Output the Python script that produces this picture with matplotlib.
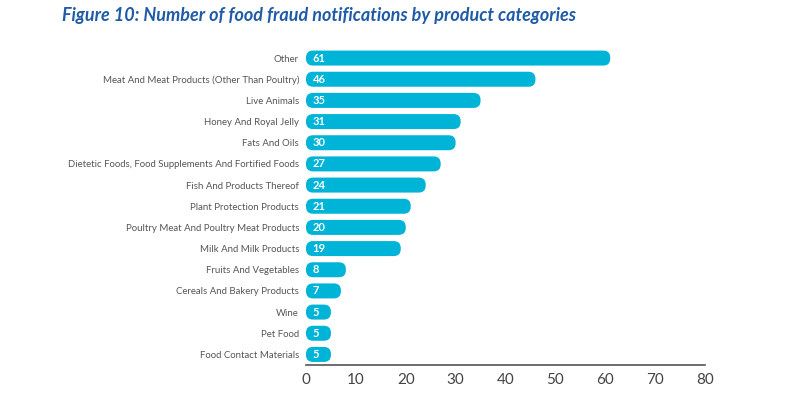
import matplotlib.pyplot as plt
from matplotlib.patches import FancyBboxPatch

categories = [
    "Other",
    "Meat And Meat Products (Other Than Poultry)",
    "Live Animals",
    "Honey And Royal Jelly",
    "Fats And Oils",
    "Dietetic Foods, Food Supplements And Fortified Foods",
    "Fish And Products Thereof",
    "Plant Protection Products",
    "Poultry Meat And Poultry Meat Products",
    "Milk And Milk Products",
    "Fruits And Vegetables",
    "Cereals And Bakery Products",
    "Wine",
    "Pet Food",
    "Food Contact Materials",
]
counts = [61, 46, 35, 31, 30, 27, 24, 21, 20, 19, 8, 7, 5, 5, 5]
ticks = [0, 10, 20, 30, 40, 50, 60, 70, 80]

bar_color = "#00b4d8"
title_color = "#1f5ba6"
label_color = "#555555"

fig = plt.figure(figsize=(8, 3.98), dpi=100)
ax = fig.add_axes([0.3825, 0.0829, 0.49875, 0.7978])
ax.set_xlim(0, 80)
ax.set_ylim(len(categories) - 0.5, -0.5)

# pixel scale to keep the corners round
px_x = 800 * 0.49875 / 80
px_y = 398 * 0.7978 / len(categories)
h = 15 / px_y
r = 7.0 / px_x
aspect = (7.0 / px_y) / r

for i, v in enumerate(counts):
    box = FancyBboxPatch((0, i - h / 2), v, h,
                         boxstyle=f"round,pad=0,rounding_size={r}",
                         mutation_aspect=aspect,
                         fc=bar_color, ec="none")
    ax.add_patch(box)
    ax.text(1.3, i, str(v), color="white", fontsize=8, fontweight="bold",
            va="center", ha="left", family="Lato")

ax.set_yticks(range(len(categories)))
ax.set_yticklabels(categories, fontsize=6.9, color=label_color, family="Lato")
ax.tick_params(axis="y", length=0, pad=5)
ax.set_xticks(ticks)
ax.set_xticklabels([str(t) for t in ticks], fontsize=11, color="#444444", family="Lato")
ax.tick_params(axis="x", length=0, pad=6)

for s in ["top", "right", "left"]:
    ax.spines[s].set_visible(False)
ax.spines["bottom"].set_color("#555555")
ax.spines["bottom"].set_linewidth(1.2)

fig.text(0.078, 0.962, "Figure 10: Number of food fraud notifications by product categories",
         color=title_color, fontsize=13, fontweight="bold", style="italic",
         family="Lato", va="center", ha="left")

fig.savefig("out.png", dpi=100)
